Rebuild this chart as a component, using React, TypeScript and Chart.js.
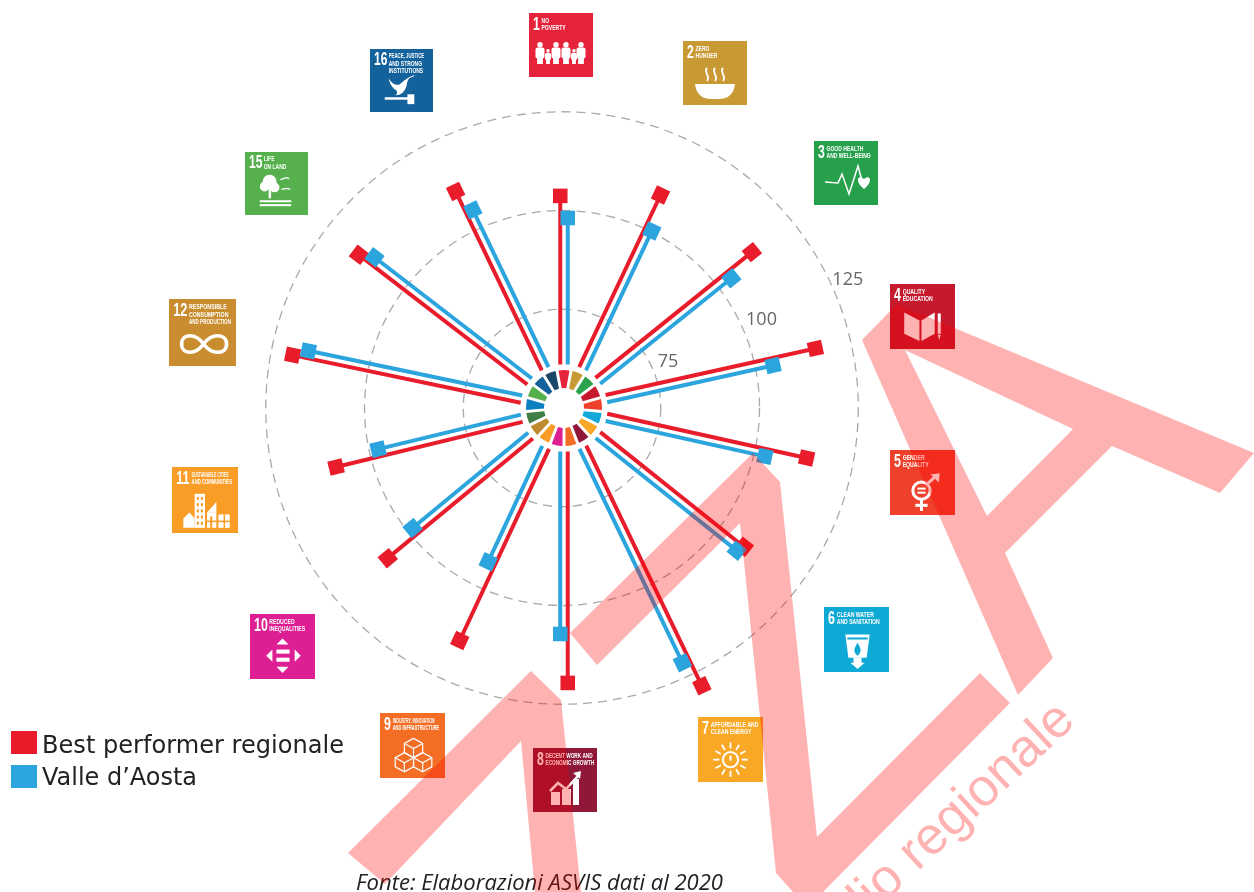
import React, { useEffect, useRef } from "react";
import { Chart, registerables } from "chart.js";

Chart.register(...registerables);

// ---- data ----
const goalNumbers = [1, 2, 3, 4, 5, 6, 7, 8, 9, 10, 11, 12, 15, 16];
const goalLabels = [
  ["NO", "POVERTY"],
  ["ZERO", "HUNGER"],
  ["GOOD HEALTH", "AND WELL-BEING"],
  ["QUALITY", "EDUCATION"],
  ["GENDER", "EQUALITY"],
  ["CLEAN WATER", "AND SANITATION"],
  ["AFFORDABLE AND", "CLEAN ENERGY"],
  ["DECENT WORK AND", "ECONOMIC GROWTH"],
  ["INDUSTRY, INNOVATION", "AND INFRASTRUCTURE"],
  ["REDUCED", "INEQUALITIES"],
  ["SUSTAINABLE CITIES", "AND COMMUNITIES"],
  ["RESPONSIBLE", "CONSUMPTION", "AND PRODUCTION"],
  ["LIFE", "ON LAND"],
  ["PEACE, JUSTICE", "AND STRONG", "INSTITUTIONS"],
];
const bestPerformer = [103.7, 109.2, 111.8, 115.4, 112.7, 107.5, 128.5, 119.6, 114.5, 108.6, 109.6, 120, 114.8, 111.3];
const valleDAosta = [98.1, 100, 103.6, 104, 102.3, 106.7, 121.1, 107.2, 93.4, 98.9, 98.2, 116.3, 111.3, 105.2];
const spokeBearings = [0, 25.3, 51.2, 77.5, 102.5, 128.6, 154.3, 180, 205, 230.5, 256.4, 281.8, 307.6, 334.3];
const ringValues = [75, 100, 125];
const ringLabelGaps = [4.5, 5.5, 4.5];
const seriesNames = ["Best performer regionale", "Valle d\u2019Aosta"];
const sourceNote = "Fonte: Elaborazioni ASVIS dati al 2020";
const watermarkText = "Consiglio regionale";

// ---- styles & layout ----
const RED = "#E91C2B";
const BLUE = "#2CA5DE";
const wheelColors = ["#E5243B", "#C99A34", "#2CA24C", "#C5192D", "#EF402B", "#12A9D8", "#F9A826", "#8F1838", "#F36D25", "#DD1F93", "#F99D26", "#BF8B2E", "#3F7E44", "#0A7FC2", "#56B04D", "#14629C", "#19486A"];
const tileColors = ["#E5243B", "#C99A34", "#26A04B", "#C5192D", "#EF402B", "#0FA9D6", "#F9A826", "#8F1838", "#F36D25", "#DD1F93", "#F99D26", "#C98C2E", "#56B04D", "#14629C"];
const tileBoxes = [
  [529, 13, 64], [683, 41, 64], [814, 141, 64], [890, 284, 65], [890, 450, 65], [824, 607, 65], [698, 717, 65],
  [533, 748, 64], [380, 713, 65], [250, 614, 65], [172, 467, 66], [169, 299, 67], [245, 152, 63], [370, 49, 63],
];
const W = 1254;
const H = 892;
const CX = 564;
const CY = 408;
const PX_PER_UNIT = 3.95;
const ZERO_VALUE = 50;
const SPOKE_START = 11; // data units from centre
const SPOKE_OFFSET = 0.95; // data units sideways
const RING_SHIFT = -0.5;
const INK = "#222";

const spokePoints = (values: number[], side: number) => {
  const out: { x: number; y: number }[] = [];
  values.forEach((v, i) => {
    const t = (spokeBearings[i] * Math.PI) / 180;
    const ox = -Math.cos(t) * SPOKE_OFFSET * side;
    const oy = Math.sin(t) * SPOKE_OFFSET * side;
    const r = v - ZERO_VALUE;
    out.push({ x: Math.sin(t) * SPOKE_START + ox, y: Math.cos(t) * SPOKE_START + oy });
    out.push({ x: Math.sin(t) * r + ox, y: Math.cos(t) * r + oy });
    out.push({ x: NaN, y: NaN });
  });
  return out;
};

type C = CanvasRenderingContext2D;

const circle = (c: C, x: number, y: number, r: number) => {
  c.beginPath();
  c.arc(x, y, r, 0, Math.PI * 2);
  c.fill();
};
const poly = (c: C, pts: number[][], fill = true) => {
  c.beginPath();
  pts.forEach((p, i) => (i ? c.lineTo(p[0], p[1]) : c.moveTo(p[0], p[1])));
  if (fill) {
    c.closePath();
    c.fill();
  } else c.stroke();
};
const person = (c: C, x: number, top: number, h: number, w: number) => {
  circle(c, x, top + w * 0.3, w * 0.3);
  c.beginPath();
  c.roundRect(x - w / 2, top + w * 0.62, w, h * 0.5, 2);
  c.fill();
  c.fillRect(x - w * 0.32, top + w * 0.62 + h * 0.4, w * 0.64, h - w * 0.62 - h * 0.4);
};

const icons: Record<number, (c: C) => void> = {
  1: (c) => {
    person(c, 11, 29, 22, 9);
    person(c, 19, 36, 15, 6);
    person(c, 27, 29, 22, 9);
    person(c, 37, 29, 22, 9);
    person(c, 45, 36, 15, 6);
    person(c, 52, 29, 22, 9);
  },
  2: (c) => {
    c.beginPath();
    c.moveTo(12, 43);
    c.lineTo(52, 43);
    c.quadraticCurveTo(50, 58, 36, 58);
    c.lineTo(28, 58);
    c.quadraticCurveTo(14, 58, 12, 43);
    c.fill();
    c.lineWidth = 1.8;
    [24, 32, 40].forEach((x) => {
      c.beginPath();
      c.moveTo(x, 27);
      c.bezierCurveTo(x - 4, 31, x + 4, 35, x, 40);
      c.stroke();
    });
  },
  3: (c) => {
    c.lineWidth = 1.5;
    poly(c, [[11, 41], [24, 42], [28, 33], [35, 53], [44, 25], [48, 40]], false);
    c.beginPath();
    c.moveTo(50, 48);
    c.bezierCurveTo(40, 40, 44, 33, 50, 38);
    c.bezierCurveTo(56, 33, 60, 40, 50, 48);
    c.fill();
  },
  4: (c) => {
    c.lineWidth = 1.5;
    poly(c, [[14, 28], [29, 36], [29, 56], [14, 49]]);
    poly(c, [[31, 36], [44, 28], [44, 49], [31, 56]]);
    c.fillRect(47, 29, 3, 20);
    poly(c, [[47, 50], [50, 50], [48.5, 55]]);
  },
  5: (c) => {
    c.lineWidth = 3;
    c.beginPath();
    c.arc(31, 40, 8.5, 0, Math.PI * 2);
    c.stroke();
    c.fillRect(27, 37, 8, 2);
    c.fillRect(27, 41, 8, 2);
    c.fillRect(29.5, 49, 3, 11);
    c.fillRect(25, 53, 12, 3);
    poly(c, [[37, 33], [46, 25]], false);
    poly(c, [[40, 24], [49, 23], [48, 32]]);
  },
  6: (c) => {
    poly(c, [[21, 27], [45, 27], [42, 50], [24, 50]]);
    poly(c, [[29, 50], [37, 50], [37, 55], [40, 55], [33, 61], [26, 55], [29, 55]]);
    c.save();
    c.fillStyle = tileColors[5];
    c.fillRect(23, 30, 20, 2);
    c.beginPath();
    c.moveTo(33, 35);
    c.bezierCurveTo(30, 41, 28, 44, 33, 48);
    c.bezierCurveTo(38, 44, 36, 41, 33, 35);
    c.fill();
    c.restore();
  },
  7: (c) => {
    c.lineWidth = 1.8;
    for (let a = 0; a < 12; a++) {
      const t = (a * Math.PI) / 6;
      poly(c, [[32 + Math.cos(t) * 11, 42 + Math.sin(t) * 11], [32 + Math.cos(t) * 17, 42 + Math.sin(t) * 17]], false);
    }
    c.lineWidth = 2;
    c.beginPath();
    c.arc(32, 42, 7.5, 0, Math.PI * 2);
    c.stroke();
    c.fillRect(31, 38, 2, 5);
  },
  8: (c) => {
    c.fillRect(18, 44, 9, 13);
    c.fillRect(29, 41, 9, 16);
    c.fillRect(40, 31, 6, 26);
    c.lineWidth = 2.5;
    poly(c, [[17, 43], [25, 35], [33, 41], [45, 28]], false);
    poly(c, [[40, 25], [48, 23], [47, 31]]);
  },
  9: (c) => {
    c.lineWidth = 1.2;
    const cube = (x: number, y: number) => {
      poly(c, [[x, y - 9], [x + 9, y - 4], [x + 9, y + 5], [x, y + 10], [x - 9, y + 5], [x - 9, y - 4], [x, y - 9]], false);
      poly(c, [[x - 9, y - 4], [x, y + 1], [x + 9, y - 4]], false);
      poly(c, [[x, y + 1], [x, y + 10]], false);
    };
    cube(33, 34);
    cube(24, 48);
    cube(42, 48);
  },
  10: (c) => {
    poly(c, [[32, 24], [38, 30], [26, 30]]);
    poly(c, [[32, 58], [38, 52], [26, 52]]);
    poly(c, [[16, 41], [22, 35], [22, 47]]);
    poly(c, [[50, 41], [44, 35], [44, 47]]);
    c.fillRect(26, 35, 13, 4);
    c.fillRect(26, 43, 13, 4);
  },
  11: (c) => {
    c.fillRect(22, 26, 10, 33);
    poly(c, [[11, 50], [17, 44], [22, 50], [22, 59], [11, 59]]);
    c.fillRect(34, 44, 9, 15);
    poly(c, [[34, 44], [43, 34], [43, 44]]);
    c.fillRect(45, 46, 11, 13);
    c.save();
    c.fillStyle = tileColors[10];
    for (let r = 0; r < 5; r++) for (let k = 0; k < 2; k++) c.fillRect(24 + k * 4, 29 + r * 6, 2, 3);
    c.fillRect(37, 48, 2, 11);
    c.fillRect(34, 52, 22, 1.5);
    c.fillRect(50, 46, 1.5, 13);
    c.restore();
  },
  12: (c) => {
    c.lineWidth = 3.5;
    c.beginPath();
    c.moveTo(33, 43);
    c.bezierCurveTo(25, 32, 12, 33, 12, 43);
    c.bezierCurveTo(12, 53, 25, 54, 33, 43);
    c.bezierCurveTo(41, 32, 55, 33, 55, 43);
    c.bezierCurveTo(55, 53, 41, 54, 33, 43);
    c.stroke();
  },
  15: (c) => {
    circle(c, 25, 30, 7);
    circle(c, 20, 35, 5);
    circle(c, 30, 36, 5);
    c.fillRect(24, 36, 2.5, 11);
    c.fillRect(15, 49, 32, 2);
    c.fillRect(15, 53, 32, 2);
    c.lineWidth = 1.3;
    poly(c, [[36, 28], [42, 26], [45, 27]], false);
    poly(c, [[37, 38], [43, 37], [46, 38]], false);
  },
  16: (c) => {
    c.beginPath();
    c.moveTo(19, 30);
    c.quadraticCurveTo(24, 38, 30, 36);
    c.quadraticCurveTo(35, 31, 40, 29);
    c.quadraticCurveTo(37, 34, 37, 38);
    c.quadraticCurveTo(34, 47, 26, 47);
    c.quadraticCurveTo(30, 43, 24, 40);
    c.quadraticCurveTo(20, 36, 19, 30);
    c.fill();
    c.lineWidth = 1;
    poly(c, [[38, 30], [45, 27]], false);
    c.fillRect(15, 49, 27, 2.5);
    c.fillRect(38, 46, 7, 10);
  },
};

const condensedText = (c: C, text: string, x: number, y: number, size: number, squeeze: number) => {
  c.save();
  c.translate(x, y);
  c.scale(squeeze, 1);
  c.font = `bold ${size}px "Liberation Sans"`;
  c.textAlign = "left";
  c.textBaseline = "alphabetic";
  c.fillText(text, 0, 0);
  c.restore();
};

const drawTile = (c: C, i: number) => {
  const [x, y, s] = tileBoxes[i];
  c.save();
  c.translate(x, y);
  c.fillStyle = tileColors[i];
  c.fillRect(0, 0, s, s);
  c.scale(s / 64, s / 64);
  c.fillStyle = "#fff";
  c.strokeStyle = "#fff";
  const n = goalNumbers[i];
  condensedText(c, String(n), 4, 16.5, 18, 0.68);
  const lx = n > 9 ? 19 : 12.5;
  goalLabels[i].forEach((line, k) => {
    const scale = Math.min(0.72, (62 - lx) / (line.length * 4.9));
    condensedText(c, line, lx, 9.5 + k * 7.4, 7, scale);
  });
  icons[n](c);
  c.restore();
};

const chartDecor = {
  id: "chartDecor",
  beforeDatasetsDraw(chart: any) {
    const c: C = chart.ctx;
    const xs = chart.scales.x;
    const ys = chart.scales.y;
    const unit = xs.getPixelForValue(1) - xs.getPixelForValue(0);
    const rcx = xs.getPixelForValue(RING_SHIFT);
    const rcy = ys.getPixelForValue(0);
    c.save();
    c.strokeStyle = "#A9A9A9";
    c.lineWidth = 1.3;
    c.setLineDash([9, 6]);
    ringValues.forEach((v) => {
      c.beginPath();
      c.arc(rcx, rcy, (v - ZERO_VALUE) * unit, 0, Math.PI * 2);
      c.stroke();
    });
    c.setLineDash([]);
    const wx = xs.getPixelForValue(0);
    const step = (Math.PI * 2) / wheelColors.length;
    wheelColors.forEach((col, i) => {
      const a = -Math.PI / 2 + i * step;
      c.beginPath();
      c.arc(wx, rcy, 38, a - step / 2 + 0.04, a + step / 2 - 0.04);
      c.arc(wx, rcy, 20, a + step / 2 - 0.07, a - step / 2 + 0.07, true);
      c.closePath();
      c.fillStyle = col;
      c.fill();
    });
    // ring value labels
    c.fillStyle = "#666";
    c.font = '18px "Open Sans"';
    c.textAlign = "center";
    c.textBaseline = "middle";
    const t = (65.5 * Math.PI) / 180;
    ringValues.forEach((v, i) => {
      const r = v - ZERO_VALUE + ringLabelGaps[i];
      c.fillText(String(v), xs.getPixelForValue(RING_SHIFT + Math.sin(t) * r), ys.getPixelForValue(Math.cos(t) * r) + 2.5);
    });
    c.restore();
  },
  afterDatasetsDraw(chart: any) {
    const c: C = chart.ctx;
    c.save();
    goalNumbers.forEach((_, i) => drawTile(c, i));

    // legend
    [RED, BLUE].forEach((col, i) => {
      c.fillStyle = col;
      c.fillRect(11, 731 + i * 34, 26, 23);
      c.fillStyle = INK;
      c.font = '25.5px "DejaVu Sans"';
      c.textAlign = "left";
      c.textBaseline = "alphabetic";
      c.fillText(seriesNames[i], 42, 752.7 + i * 32.5, i === 0 ? 302 : 155);
    });

    // source line
    c.fillStyle = INK;
    c.font = 'italic 22.1px "Open Sans"';
    c.textAlign = "left";
    c.fillText(sourceNote, 356, 890, 367);

    // watermark
    c.fillStyle = "rgba(255,0,0,0.3)";
    c.beginPath();
    const path = (pts: number[][]) => {
      pts.forEach((p, i) => (i ? c.lineTo(p[0], p[1]) : c.moveTo(p[0], p[1])));
      c.closePath();
    };
    path([[862, 340], [897, 304], [1254, 453], [1220, 493], [1112, 446], [1005, 553], [1053, 658], [1018, 695]]);
    path([[905, 350], [1073, 429], [987, 516]]);
    c.fill("evenodd");
    c.beginPath();
    path([[348, 853], [531, 671], [561, 700], [581, 892], [535, 892], [521, 741], [385, 884]]);
    c.fill();
    c.beginPath();
    path([[570, 633], [753, 453], [780, 482], [817, 837], [980, 673], [1010, 703], [823, 892], [793, 892], [776, 873], [740, 523], [597, 665]]);
    c.fill();
    c.save();
    c.translate(1077, 723);
    c.rotate((-43 * Math.PI) / 180);
    c.font = '53px "Liberation Sans"';
    c.textAlign = "right";
    c.fillText(watermarkText, 0, 0);
    c.restore();
    c.restore();
  },
};

const isTip = (ctx: any) => ctx.dataIndex % 3 === 1;
const tipRotation = (ctx: any) => spokeBearings[Math.floor(ctx.dataIndex / 3)];
const TIP_RADIUS = 10.3;

export default function App() {
  const ref = useRef<HTMLCanvasElement>(null);
  useEffect(() => {
    const spoke = (label: string, values: number[], side: number, color: string) => ({
      label,
      data: spokePoints(values, side),
      showLine: true,
      spanGaps: false,
      borderColor: color,
      backgroundColor: color,
      borderWidth: 4,
      pointRadius: (ctx: any) => (isTip(ctx) ? TIP_RADIUS : 0),
      pointHoverRadius: (ctx: any) => (isTip(ctx) ? TIP_RADIUS : 0),
      pointStyle: "rect",
      pointRotation: tipRotation,
      pointBorderWidth: 0,
    });
    const chart = new Chart(ref.current as HTMLCanvasElement, {
      type: "scatter",
      data: {
        datasets: [
          spoke(seriesNames[1], valleDAosta, -1, BLUE),
          spoke(seriesNames[0], bestPerformer, 1, RED),
        ],
      },
      options: {
        responsive: false,
        animation: false,
        layout: { padding: 0 },
        plugins: { legend: { display: false }, tooltip: { enabled: false } },
        events: [],
        scales: {
          x: { type: "linear", display: false, min: -CX / PX_PER_UNIT, max: (W - CX) / PX_PER_UNIT },
          y: { type: "linear", display: false, min: -(H - CY) / PX_PER_UNIT, max: CY / PX_PER_UNIT },
        },
      } as any,
      plugins: [chartDecor],
    });
    return () => chart.destroy();
  }, []);
  return (
    <canvas
      ref={ref}
      width={W}
      height={H}
      style={{ position: "fixed", left: 0, top: 0, display: "block", background: "#fff" }}
    />
  );
}
